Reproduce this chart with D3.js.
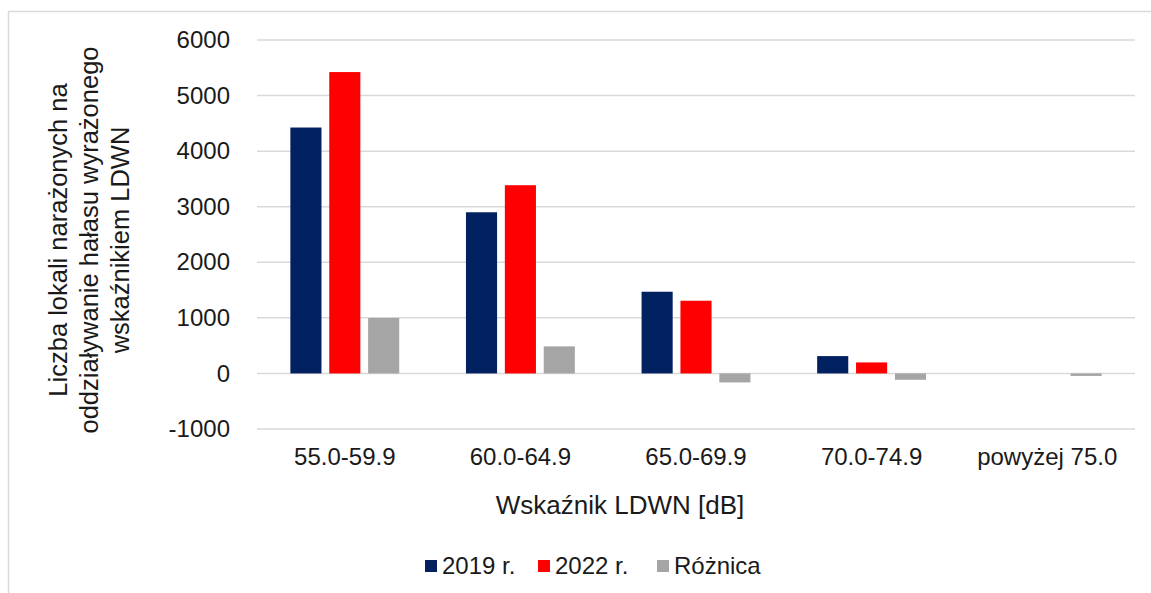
<!DOCTYPE html>
<html>
<head>
<meta charset="utf-8">
<script src="https://cdn.jsdelivr.net/npm/d3@7"></script>
<style>
	html, body { margin: 0; padding: 0; background: #ffffff; }
	svg { display: block; font-family: "Liberation Sans", Arial, sans-serif; }
</style>
</head>
<body>
<div id="chart"></div>
<script>
// Data
var categories = ["55.0-59.9", "60.0-64.9", "65.0-69.9", "70.0-74.9", "powyżej 75.0"];
var seriesNames = ["2019 r.", "2022 r.", "Różnica"];
var values2019 = [4425, 2900, 1470, 312, 0];
var values2022 = [5423, 3387, 1308, 198, 0];
var valuesDiff = [998, 487, -162, -114, -45];
var yTicks = [-1000, 0, 1000, 2000, 3000, 4000, 5000, 6000];
var seriesColors = ["#002060", "#ff0000", "#a5a5a5"];

var yTitleLines = ["Liczba lokali narażonych na", "oddziaływanie hałasu wyrażonego", "wskaźnikiem LDWN"];
var xTitle = "Wskaźnik LDWN [dB]";

(function(){
	var width = 1151, height = 593;
	var plot = { left: 257, right: 1135, top: 40, bottom: 429 };
	var textColor = "#1a1a1a";

	var svg = d3.select("#chart").append("svg")
		.attr("width", width)
		.attr("height", height);

	// outer frame (only top and left edges show in the picture)
	svg.append("path")
		.attr("d", "M8.5," + height + "V11.5H" + width)
		.attr("fill", "none")
		.attr("stroke", "#d9d9d9")
		.attr("stroke-width", 1.5);

	var x0 = d3.scaleBand()
		.domain(categories)
		.range([plot.left, plot.right])
		.paddingInner(0.38)
		.paddingOuter(0.19);

	var x1 = d3.scaleBand()
		.domain(seriesNames)
		.range([0, x0.bandwidth()])
		.paddingInner(0.2);

	var y = d3.scaleLinear()
		.domain([-1000, 6000])
		.range([plot.bottom, plot.top]);

	// gridlines
	svg.append("g").selectAll("line")
		.data(yTicks)
		.enter().append("line")
		.attr("x1", plot.left)
		.attr("x2", plot.right)
		.attr("y1", function(d){ return y(d); })
		.attr("y2", function(d){ return y(d); })
		.attr("stroke", "#d9d9d9")
		.attr("stroke-width", 1.5);

	// y axis labels
	var yAxis = d3.axisLeft(y)
		.tickValues(yTicks)
		.tickFormat(function(d){ return String(d); })
		.tickSize(0)
		.tickPadding(27);
	var gy = svg.append("g")
		.attr("transform", "translate(" + plot.left + ",0)")
		.call(yAxis);
	gy.select(".domain").remove();
	gy.selectAll("text")
		.attr("font-size", 24)
		.attr("font-family", "Liberation Sans, Arial, sans-serif")
		.attr("fill", textColor);

	// bars
	var rows = categories.map(function(c, i){
		return { cat: c, vals: [values2019[i], values2022[i], valuesDiff[i]] };
	});

	var groups = svg.append("g").selectAll("g")
		.data(rows)
		.enter().append("g")
		.attr("transform", function(d){ return "translate(" + x0(d.cat) + ",0)"; });

	groups.selectAll("rect")
		.data(function(d){
			return d.vals.map(function(v, k){ return { name: seriesNames[k], value: v, k: k }; });
		})
		.enter().append("rect")
		.attr("x", function(d){ return x1(d.name); })
		.attr("width", x1.bandwidth())
		.attr("y", function(d){ return y(Math.max(0, d.value)); })
		.attr("height", function(d){ return Math.abs(y(d.value) - y(0)); })
		.attr("fill", function(d){ return seriesColors[d.k]; });

	// x axis labels
	var xAxis = d3.axisBottom(x0).tickSize(0).tickPadding(19);
	var gx = svg.append("g")
		.attr("transform", "translate(0," + plot.bottom + ")")
		.call(xAxis);
	gx.select(".domain").remove();
	gx.selectAll("text")
		.attr("font-size", 24)
		.attr("font-family", "Liberation Sans, Arial, sans-serif")
		.attr("fill", textColor);

	// axis titles
	svg.append("text")
		.attr("x", 620)
		.attr("y", 514)
		.attr("text-anchor", "middle")
		.attr("font-size", 26)
		.attr("fill", textColor)
		.text(xTitle);

	var yTitle = svg.append("text")
		.attr("transform", "translate(0,240) rotate(-90)")
		.attr("text-anchor", "middle")
		.attr("font-size", 25.5)
		.attr("fill", textColor);
	yTitle.selectAll("tspan")
		.data(yTitleLines)
		.enter().append("tspan")
		.attr("x", 0)
		.attr("y", function(d, i){ return 67 + i * 31; })
		.text(function(d){ return d; });

	// legend
	var legendX = [425, 538, 657];
	var legend = svg.append("g").selectAll("g")
		.data(seriesNames)
		.enter().append("g")
		.attr("transform", function(d, i){ return "translate(" + legendX[i] + ",560)"; });
	legend.append("rect")
		.attr("width", 12)
		.attr("height", 12)
		.attr("fill", function(d, i){ return seriesColors[i]; });
	legend.append("text")
		.attr("x", 17)
		.attr("y", 13.5)
		.attr("font-size", 24)
		.attr("fill", textColor)
		.text(function(d){ return d; });
})();
</script>
</body>
</html>
